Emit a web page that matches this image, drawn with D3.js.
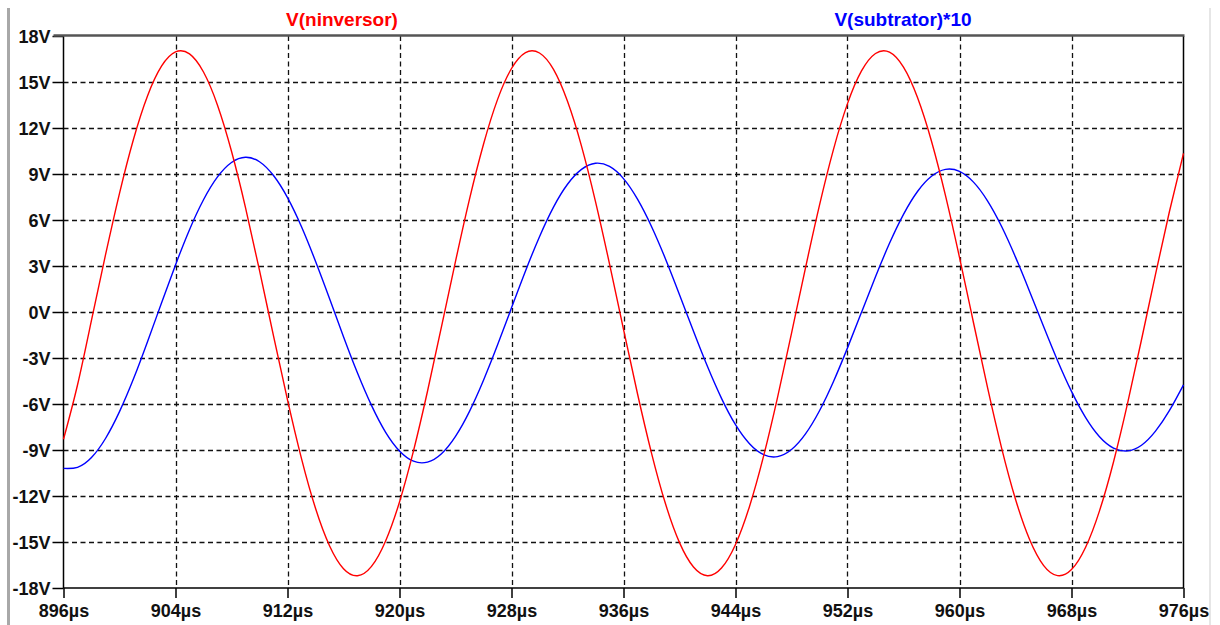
<!DOCTYPE html>
<html>
<head>
<meta charset="utf-8">
<script src="https://cdn.jsdelivr.net/npm/d3@7"></script>
<style>
  body { margin: 0; background: #fff; }
  svg { display: block; }
  text { font-family: "Liberation Sans", Arial, sans-serif; font-weight: bold; }
</style>
</head>
<body>
<svg width="1220" height="625"></svg>
<script>
// time axis in µs, one sample per µs
const times = d3.range(896, 977);

// V(ninversor)
const ninversor = [
  -8.3, -4.76, -0.53, 3.72, 7.74, 11.27, 14.09, 16.03, 16.96, 16.83,
  15.65, 13.49, 10.48, 6.81, 2.71, -1.56, -5.73, -9.56, -12.80, -15.24,
  -16.74, -17.20, -16.59, -14.95, -12.39, -9.06, -5.17, -0.96, 3.30, 7.36,
  10.94, 13.85, 15.88, 16.92, 16.89, 15.82, 13.74, 10.82, 7.20, 3.14,
  -1.13, -5.33, -9.20, -12.51, -15.04, -16.63, -17.20, -16.70, -15.16, -12.68,
  -9.42, -5.58, -1.39, 2.88, 6.97, 10.61, 13.59, 15.72, 16.86, 16.95,
  15.97, 13.99, 11.14, 7.59, 3.56, -0.70, -4.92, -8.84, -12.21, -14.82,
  -16.52, -17.19, -16.80, -15.36, -12.97, -9.78, -5.98, -1.81, 2.46, 6.57,
  10.35
];

// V(subtrator)*10
const subtrator = [
  -10.2, -10.13, -9.49, -8.25, -6.50, -4.36, -1.94, 0.59, 3.07, 5.37,
  7.32, 8.81, 9.75, 10.09, 9.80, 8.90, 7.46, 5.56, 3.31, 0.88,
  -1.61, -3.98, -6.09, -7.83, -9.06, -9.73, -9.79, -9.24, -8.11, -6.48,
  -4.45, -2.16, 0.27, 2.68, 4.91, 6.84, 8.33, 9.30, 9.70, 9.49,
  8.70, 7.36, 5.58, 3.46, 1.13, -1.26, -3.56, -5.63, -7.35, -8.59,
  -9.30, -9.43, -8.97, -7.95, -6.44, -4.53, -2.34, -0.02, 2.30, 4.48,
  6.37, 7.86, 8.85, 9.30, 9.17, 8.47, 7.25, 5.59, 3.58, 1.36,
  -0.93, -3.16, -5.18, -6.87, -8.13, -8.87, -9.06, -8.69, -7.77, -6.42,
  -4.75
];

const xTicks = [896, 904, 912, 920, 928, 936, 944, 952, 960, 968, 976];
const yTicks = [-18, -15, -12, -9, -6, -3, 0, 3, 6, 9, 12, 15, 18];
const traceNames = ["V(ninversor)", "V(subtrator)*10"];

const svg = d3.select("svg");

const pLeft = 63.5, pRight = 1183.5, pTop = 36, pBottom = 588;

const x = d3.scaleLinear().domain([896, 976]).range([pLeft, pRight]);
const y = d3.scaleLinear().domain([-18, 18]).range([pBottom, pTop]);

// window edges
svg.append("rect").attr("x", 7).attr("y", 8).attr("width", 3).attr("height", 617).attr("fill", "#a8a8a8");
svg.append("rect").attr("x", 1209).attr("y", 8).attr("width", 2).attr("height", 617).attr("fill", "#e6e6e6");

// dashed grid
const grid = svg.append("g").attr("stroke", "#111").attr("stroke-width", 1.3).attr("stroke-dasharray", "5,3.5");
grid.selectAll(".gx").data(xTicks.slice(1, -1)).enter().append("line")
  .attr("x1", d => Math.round(x(d)) + 0.5).attr("x2", d => Math.round(x(d)) + 0.5)
  .attr("y1", pTop).attr("y2", pBottom);
grid.selectAll(".gy").data(yTicks.slice(1, -1)).enter().append("line")
  .attr("y1", d => Math.round(y(d)) + 0.5).attr("y2", d => Math.round(y(d)) + 0.5)
  .attr("x1", pLeft).attr("x2", pRight);

// axes
const yAxis = svg.append("g")
  .attr("transform", `translate(${pLeft},0)`)
  .call(d3.axisLeft(y).tickValues(yTicks).tickSize(11).tickPadding(2).tickFormat(d => d + "V"));
const xAxis = svg.append("g")
  .attr("transform", `translate(0,${pBottom})`)
  .call(d3.axisBottom(x).tickValues(xTicks).tickSize(10).tickPadding(6).tickFormat(d => d + "µs"));

[yAxis, xAxis].forEach(a => {
  a.select(".domain").remove();
  a.selectAll("line").attr("stroke", "#000").attr("stroke-width", 1.5);
  a.selectAll("text").attr("fill", "#111").style("font-size", "18px").style("font-family", "'Liberation Sans', Arial, sans-serif").style("font-weight", "bold");
});
yAxis.selectAll("text").attr("dy", "0.36em");

// frame
svg.append("line").attr("x1", pLeft).attr("x2", pLeft).attr("y1", pTop).attr("y2", pBottom).attr("stroke", "#000").attr("stroke-width", 1.5);
svg.append("line").attr("x1", pRight).attr("x2", pRight).attr("y1", pTop).attr("y2", pBottom).attr("stroke", "#000").attr("stroke-width", 1.5);
svg.append("line").attr("x1", pLeft).attr("x2", pRight).attr("y1", pBottom).attr("y2", pBottom).attr("stroke", "#000").attr("stroke-width", 1.5);
svg.append("line").attr("x1", pLeft - 10).attr("x2", pRight + 1).attr("y1", pTop - 0.5).attr("y2", pTop - 0.5).attr("stroke", "#555").attr("stroke-width", 2.5);

// traces
const line = d3.line().x((d, i) => x(times[i])).y(d => y(d)).curve(d3.curveNatural);

svg.append("path").datum(subtrator)
  .attr("d", line).attr("fill", "none").attr("stroke", "#0000ff").attr("stroke-width", 1.4);
svg.append("path").datum(ninversor)
  .attr("d", line).attr("fill", "none").attr("stroke", "#ff0000").attr("stroke-width", 1.4);

// trace labels
svg.append("text").attr("x", 342).attr("y", 26).attr("text-anchor", "middle")
  .attr("fill", "#ff0000").style("font-size", "19px").text(traceNames[0]);
svg.append("text").attr("x", 903).attr("y", 26).attr("text-anchor", "middle")
  .attr("fill", "#0000ff").style("font-size", "19px").text(traceNames[1]);
</script>
</body>
</html>
